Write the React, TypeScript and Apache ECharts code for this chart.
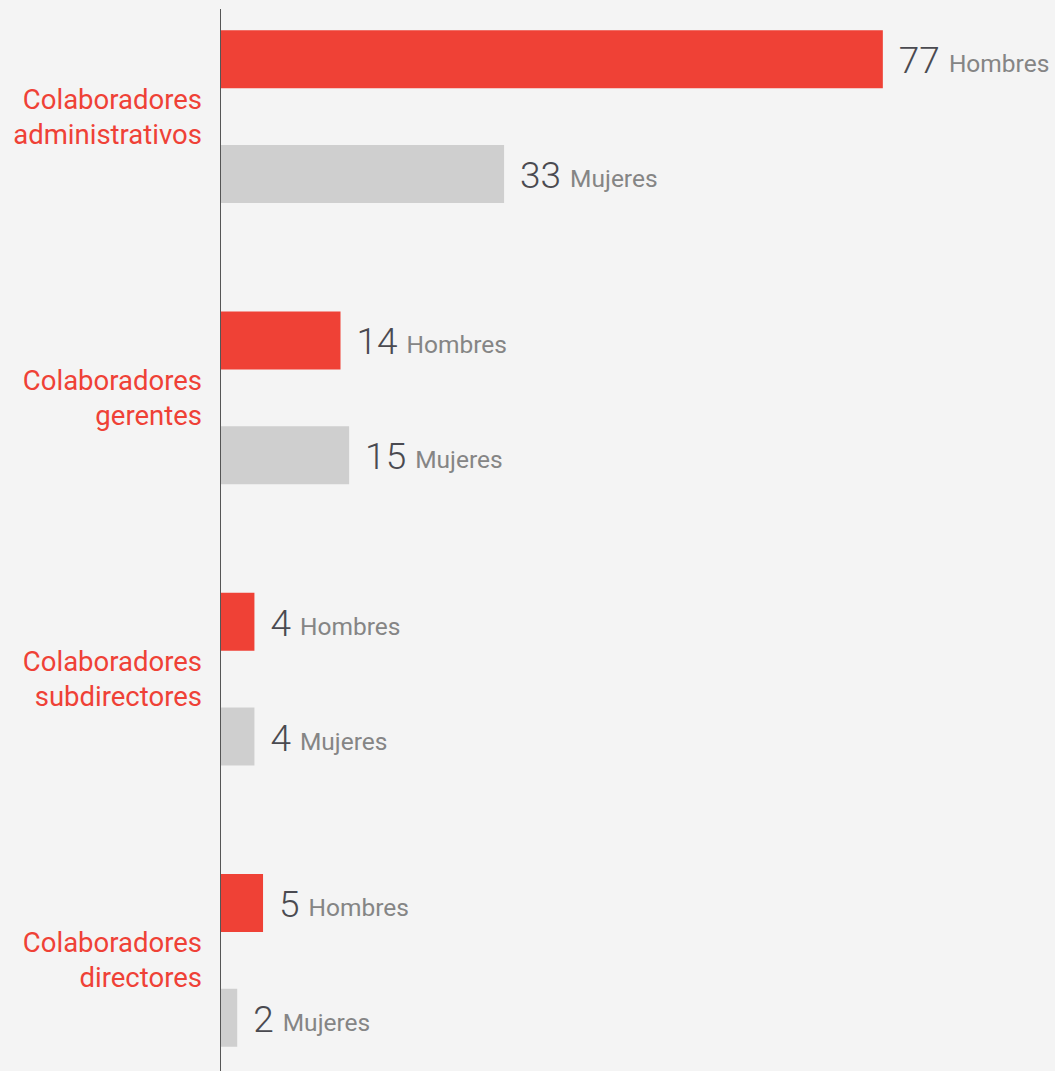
import React, { useEffect, useRef } from "react";
import * as echarts from "echarts";

const categories = [
  "Colaboradores\nadministrativos",
  "Colaboradores\ngerentes",
  "Colaboradores\nsubdirectores",
  "Colaboradores\ndirectores",
];
const hombres = [77, 14, 4, 5];
const mujeres = [33, 15, 4, 2];
const seriesNames = ["Hombres", "Mujeres"];

const OFFSET = 24;

export default function App() {
  const ref = useRef<HTMLDivElement>(null);
  useEffect(() => {
    if (!ref.current) return;
    const chart = echarts.init(ref.current, null, { renderer: "svg" });
    const mkLabel = (name: string) => ({
      show: true,
      position: "right",
      distance: 16,
      formatter: (p: any) => `{v|${p.value}}{n|${name}}`,
      rich: {
        v: {
          fontFamily: "Roboto",
          fontWeight: 300,
          fontSize: 37,
          color: "#4a4a50",
          verticalAlign: "bottom",
          lineHeight: 40,
        },
        n: {
          fontFamily: "Roboto",
          fontWeight: 400,
          fontSize: 24.5,
          color: "#858585",
          verticalAlign: "bottom",
          lineHeight: 34,
          padding: [0, 0, 3, 9],
        },
      },
    });
    chart.setOption({
      animation: false,
      backgroundColor: "#f4f4f4",
      grid: { left: 220, right: 0, top: 0, bottom: 0, containLabel: false },
      xAxis: {
        type: "value",
        min: 0,
        max: 97,
        show: false,
      },
      yAxis: {
        type: "category",
        inverse: true,
        data: categories,
        axisLine: { show: false },
        axisTick: { show: false },
        axisLabel: {
          color: "#ef4136",
          fontFamily: "Roboto",
          fontSize: 27.5,
          lineHeight: 35,
          align: "right",
          margin: 18,
        },
      },
      graphic: [
        {
          type: "line",
          shape: { x1: 220.5, y1: 9 + OFFSET, x2: 220.5, y2: 1071 + OFFSET + 40 },
          style: { stroke: "#555555", lineWidth: 1 },
          z: 10,
        },
      ],
      series: [
        {
          name: seriesNames[0],
          type: "bar",
          data: hombres,
          barWidth: 58,
          barGap: "98%",
          itemStyle: { color: "#ef4136" },
          label: mkLabel(seriesNames[0]),
        },
        {
          name: seriesNames[1],
          type: "bar",
          data: mujeres,
          barWidth: 58,
          barGap: "98%",
          itemStyle: { color: "#cfcfcf" },
          label: mkLabel(seriesNames[1]),
        },
      ],
    });
    return () => chart.dispose();
  }, []);
  return (
    <div
      ref={ref}
      style={{ position: "fixed", left: 0, top: -OFFSET, width: 1055, height: 1125 }}
    />
  );
}
